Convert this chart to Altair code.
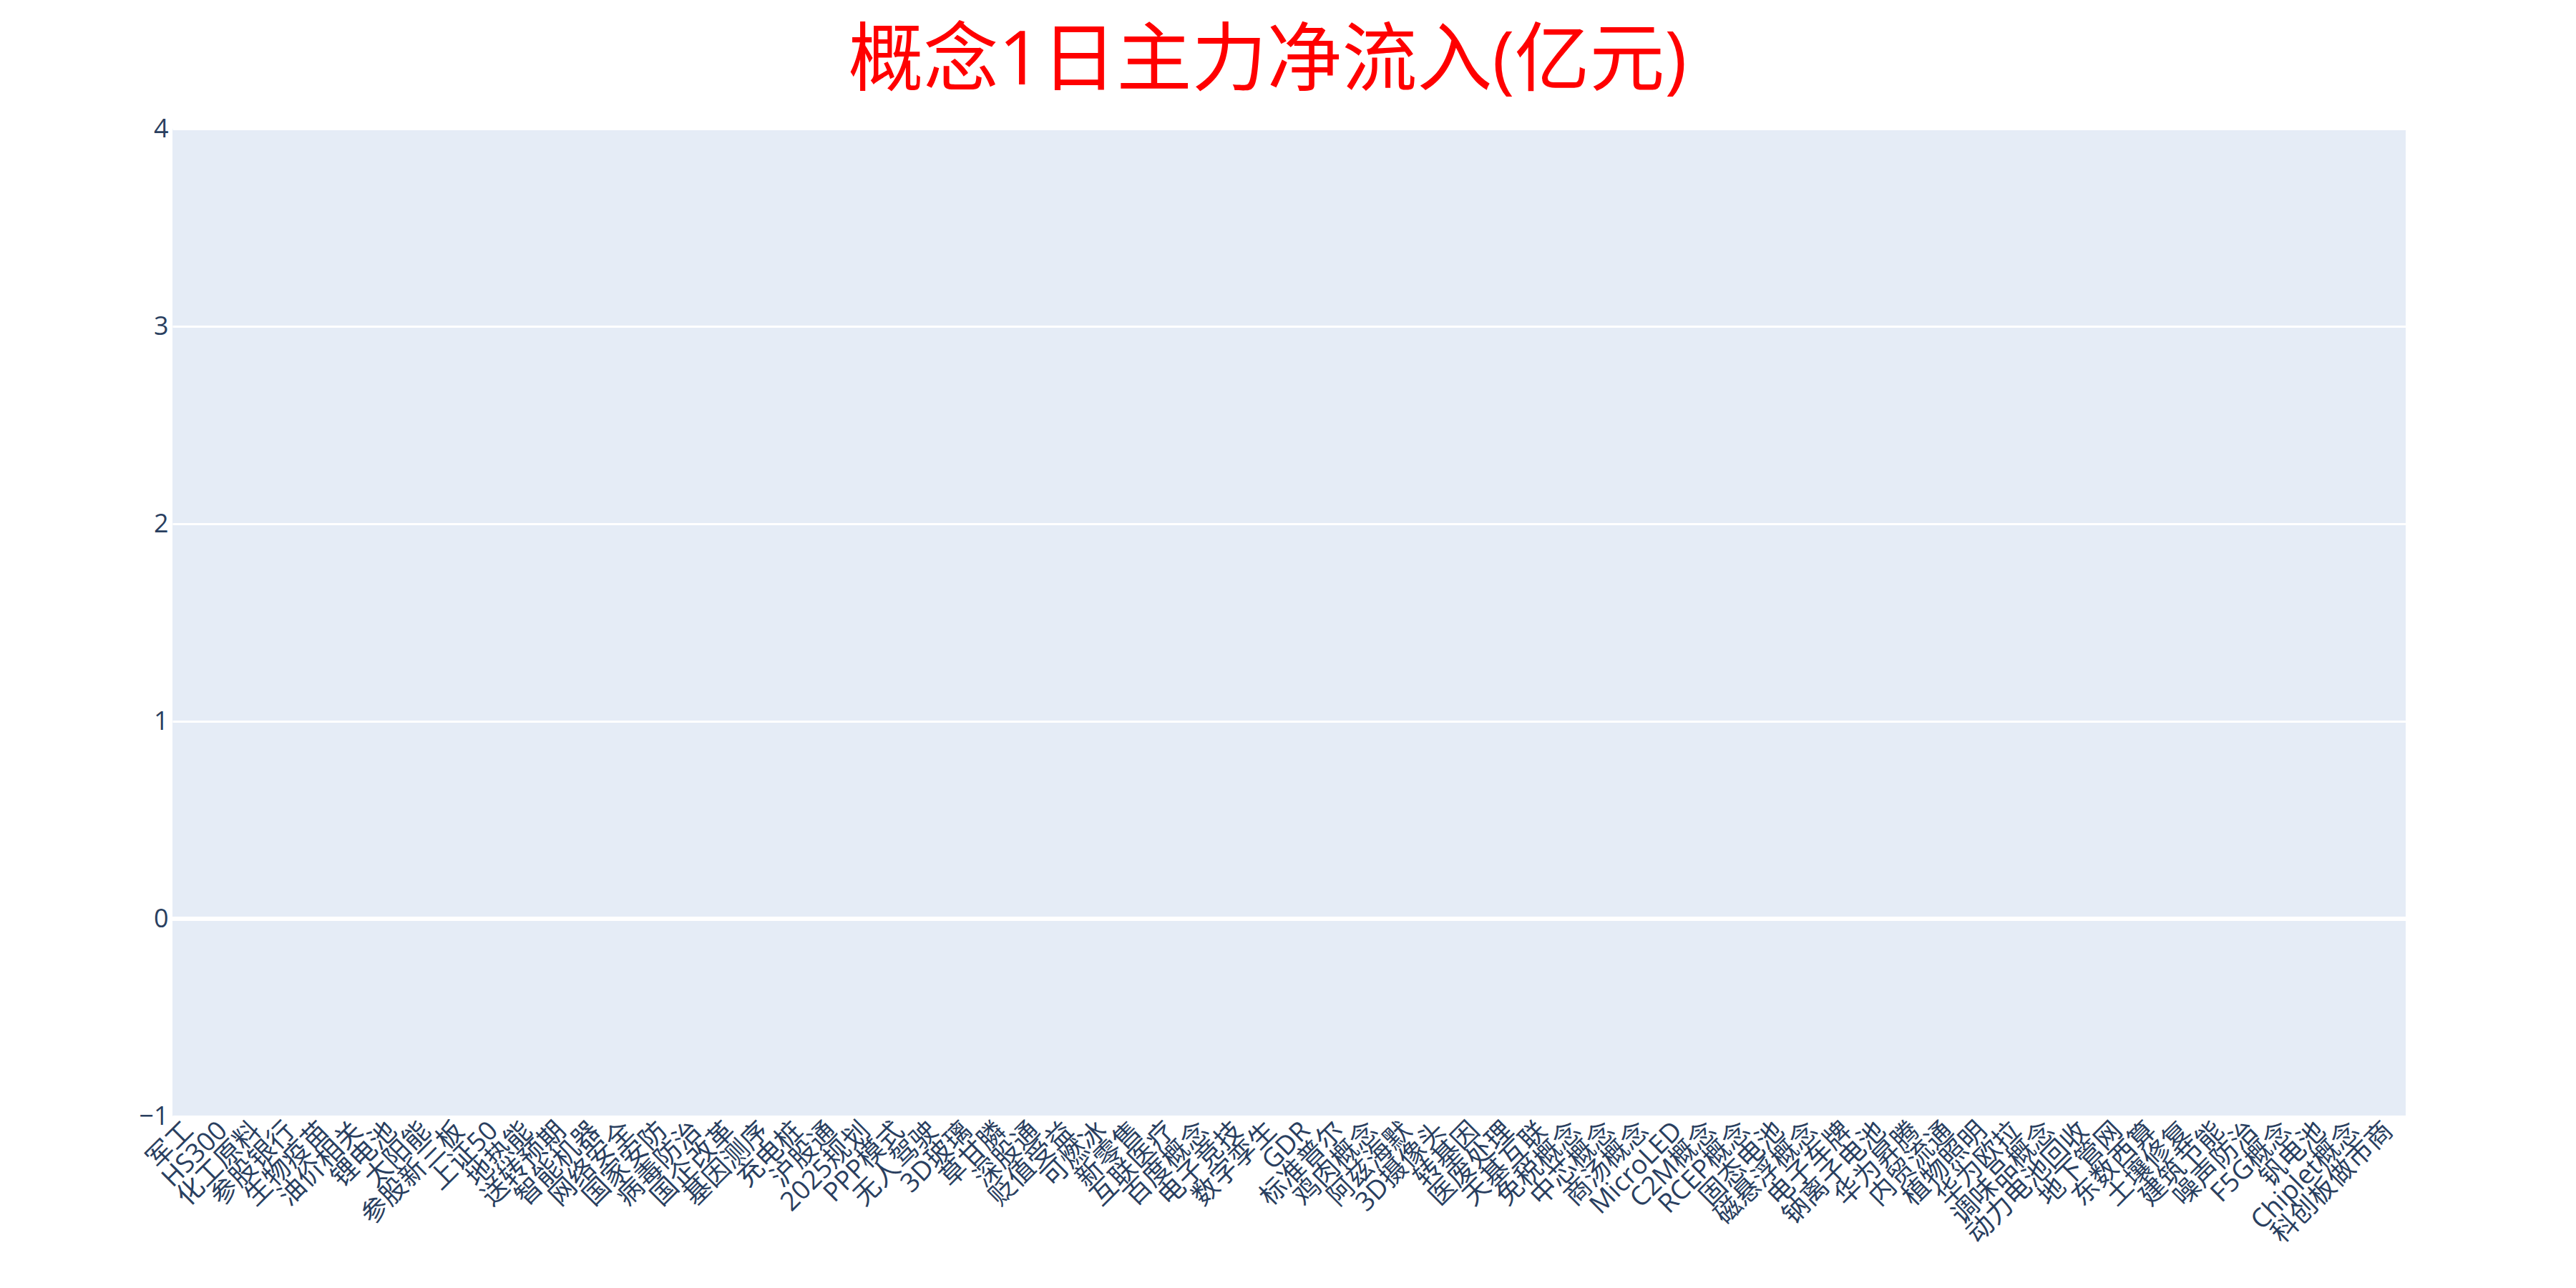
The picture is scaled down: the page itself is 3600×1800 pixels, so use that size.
import altair as alt
import pandas as pd

categories = [
    "军工", "HS300", "化工原料", "参股银行", "生物疫苗", "油价相关", "锂电池", "太阳能",
    "参股新三板", "上证50", "地热能", "送转预期", "智能机器", "网络安全", "国家安防", "病毒防治",
    "国企改革", "基因测序", "充电桩", "沪股通", "2025规划", "PPP模式", "无人驾驶", "3D玻璃",
    "草甘膦", "深股通", "贬值受益", "可燃冰", "新零售", "互联医疗", "百度概念", "电子竞技",
    "数字孪生", "GDR", "标准普尔", "鸡肉概念", "阿兹海默", "3D摄像头", "转基因", "医废处理",
    "天基互联", "免税概念", "中芯概念", "商汤概念", "MicroLED", "C2M概念", "RCEP概念", "固态电池",
    "磁悬浮概念", "电子车牌", "钠离子电池", "华为昇腾", "内贸流通", "植物照明", "华为欧拉", "调味品概念",
    "动力电池回收", "地下管网", "东数西算", "土壤修复", "建筑节能", "噪声防治", "F5G概念", "钒电池",
    "Chiplet概念", "科创板做市商",
]

# net inflow values: none are present in the reference (empty plot)
inflow = [
    None, None, None, None, None, None, None, None,
    None, None, None, None, None, None, None, None,
    None, None, None, None, None, None, None, None,
    None, None, None, None, None, None, None, None,
    None, None, None, None, None, None, None, None,
    None, None, None, None, None, None, None, None,
    None, None, None, None, None, None, None, None,
    None, None, None, None, None, None, None, None,
    None, None,
]

y_ticks = [-1, 0, 1, 2, 3, 4]
title_text = "概念1日主力净流入(亿元)"

FONT = "Open Sans, Noto Sans CJK SC, sans-serif"
LABEL_COLOR = "#2a3f5f"

df = pd.DataFrame({"concept": categories, "inflow": inflow})

bars = alt.Chart(df).mark_bar(color="#636efa").encode(
    x=alt.X(
        "concept:N",
        sort=categories,
        scale=alt.Scale(domain=categories, paddingInner=0.2, paddingOuter=0.1),
        axis=alt.Axis(
            title=None,
            labelAngle=315,
            labelAlign="right",
            labelBaseline="middle",
            labelPadding=14,
            labelFontSize=37,
            labelFont=FONT,
            labelColor=LABEL_COLOR,
            labelOverlap=False,
            labelLimit=0,
            labelBound=False,
            ticks=False,
            domain=False,
            grid=False,
        ),
    ),
    y=alt.Y(
        "inflow:Q",
        scale=alt.Scale(domain=[y_ticks[0], y_ticks[-1]], nice=False, zero=False),
        axis=alt.Axis(
            title=None,
            values=y_ticks,
            format="d",
            labelPadding=6,
            labelFontSize=36,
            labelFont=FONT,
            labelColor=LABEL_COLOR,
            labelOverlap=False,
            ticks=False,
            domain=False,
            grid=True,
            gridColor="white",
            gridWidth=3,
        ),
    ),
)

zero_line = alt.Chart(df).mark_rule(color="white", strokeWidth=6).encode(
    y=alt.datum(0)
)

chart = alt.layer(bars, zero_line).properties(
    width=3121,
    height=1380,
    background="white",
    title=alt.TitleParams(
        title_text,
        color="red",
        fontSize=105,
        font=FONT,
        fontWeight="normal",
        anchor="middle",
        frame="group",
        offset=22,
        dx=-30,
    ),
    autosize=alt.AutoSizeParams(type="none"),
    padding={"left": 241, "top": 180, "right": 238, "bottom": 240},
).configure_view(
    fill="#E5ECF6", stroke="transparent", strokeWidth=0
)

chart.save("out.html", embed_options={"renderer": "svg", "actions": False})
